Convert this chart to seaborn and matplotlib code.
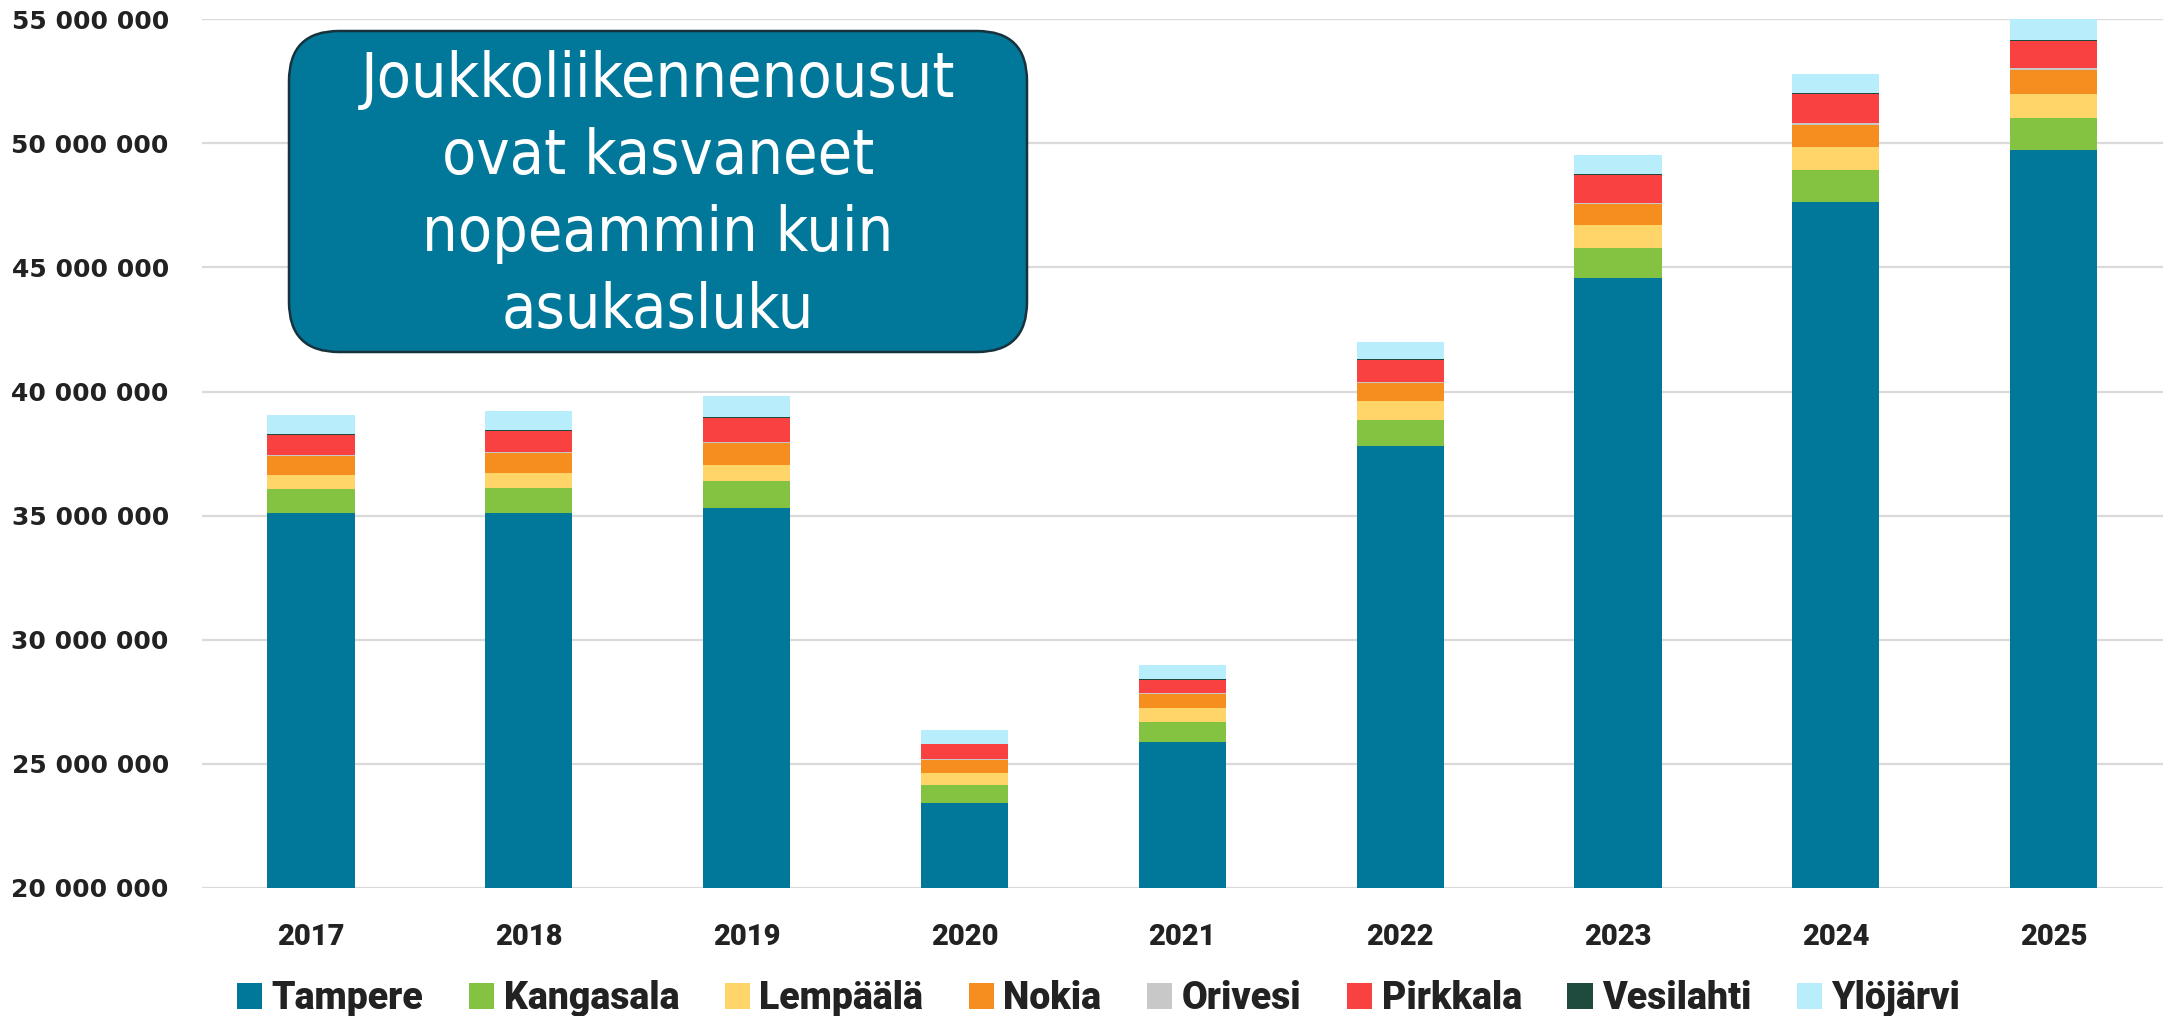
import numpy as np
import pandas as pd
import matplotlib
matplotlib.use('Agg')
import matplotlib.pyplot as plt
from matplotlib import font_manager
from matplotlib.patches import FancyBboxPatch, Patch
from matplotlib.ticker import FuncFormatter
import seaborn as sns

sns.set_style('white')
plt.rcParams['font.family'] = ['DejaVu Sans']

years = ['2017', '2018', '2019', '2020', '2021', '2022', '2023', '2024', '2025']
cities = ['Tampere', 'Kangasala', 'Lempäälä', 'Nokia', 'Orivesi', 'Pirkkala', 'Vesilahti', 'Ylöjärvi']
colors = ['#01789A', '#84C341', '#FFD56A', '#F68D1F', '#C8C8C8', '#FA4142', '#1F4B3F', '#B8EEFC']

# nousut per kunta (kpl)
tampere   = [35110000, 35110000, 35320000, 23420000, 25870000, 37820000, 44560000, 47650000, 49730000]
kangasala = [970000, 1020000, 1090000, 730000, 810000, 1020000, 1220000, 1260000, 1310000]
lempaala  = [540000, 600000, 650000, 490000, 560000, 780000, 930000, 940000, 960000]
nokia     = [790000, 780000, 880000, 530000, 570000, 730000, 860000, 900000, 940000]
orivesi   = [40000, 40000, 40000, 30000, 30000, 40000, 40000, 80000, 80000]
pirkkala  = [800000, 860000, 950000, 590000, 560000, 890000, 1120000, 1160000, 1100000]
vesilahti = [30000, 30000, 30000, 20000, 20000, 30000, 30000, 30000, 40000]
ylojarvi  = [760000, 760000, 880000, 550000, 580000, 700000, 780000, 790000, 840000]

series = [tampere, kangasala, lempaala, nokia, orivesi, pirkkala, vesilahti, ylojarvi]
df = pd.DataFrame({
    'year': np.tile(years, len(cities)),
    'city': np.repeat(cities, len(years)),
    'value': np.concatenate(series),
})
df['city'] = pd.Categorical(df['city'], categories=cities, ordered=True)
df = df.sort_values(['year', 'city'])
df['cum'] = df.groupby('year')['value'].cumsum()

# kapea fontti otsikkoon jos loytyy
names = {f.name for f in font_manager.fontManager.ttflist}
condensed = [f for f in font_manager.fontManager.ttflist
             if f.name in ('DejaVu Sans', 'Roboto Condensed')
             and f.stretch in ('condensed', 'semi-condensed')
             and f.style == 'normal' and f.weight in (400, 'normal', 'regular')]
if 'Liberation Sans Narrow' in names:
    title_font = dict(family='Liberation Sans Narrow', size=50)
elif condensed:
    title_font = dict(fname=condensed[0].fname, size=45)
else:
    title_font = dict(family='Roboto', weight='light', size=44)
title_prop = font_manager.FontProperties(**title_font)

fig = plt.figure(figsize=(21.8, 10.16), dpi=100)
ax = fig.add_axes([0.0927, 0.126, 0.8993, 0.855])

# stacked bars: draw cumulative totals from the top down
for city, col in reversed(list(zip(cities, colors))):
    sub = df[df['city'] == city]
    sns.barplot(data=sub, x='year', y='cum', order=years, color=col, width=0.4,
                saturation=1, errorbar=None, linewidth=0, ax=ax)

ax.set_ylim(20e6, 55e6)
ax.set_yticks(np.arange(20e6, 55e6 + 1, 5e6))
ax.set_xlim(-0.5, 8.5)
ax.yaxis.set_major_formatter(FuncFormatter(lambda v, p: '{:,}'.format(int(v)).replace(',', ' ')))
ax.yaxis.grid(True, color='#DADADA', linewidth=1.6)
ax.set_axisbelow(True)
sns.despine(ax=ax, left=True, bottom=True)
ax.set_xlabel('')
ax.set_ylabel('')
ax.tick_params(axis='y', length=0, pad=24, labelsize=18, labelcolor='#222222')
ax.tick_params(axis='x', length=0, pad=25, labelcolor='#222222')
for lab in ax.get_yticklabels():
    lab.set_fontweight('heavy')
for lab in ax.get_xticklabels():
    lab.set_fontfamily(['Roboto', 'DejaVu Sans'])
    lab.set_fontweight('black')
    lab.set_fontsize(21)

# otsikkolaatikko
box = FancyBboxPatch((2.89, 6.64), 7.38, 3.21, boxstyle='round,pad=0,rounding_size=0.5',
                     transform=fig.dpi_scale_trans, facecolor='#01789A', edgecolor='#17323D',
                     linewidth=1.8, zorder=5)
fig.patches.append(box)
fig.text(2.89 + 7.38 / 2, 6.64 + 3.21 / 2 - 0.04,
         'Joukkoliikennenousut\novat kasvaneet\nnopeammin kuin\nasukasluku',
         transform=fig.dpi_scale_trans, ha='center', va='center', color='white',
         fontproperties=title_prop, linespacing=1.36, zorder=6)

handles = [Patch(facecolor=c, edgecolor='none') for c in colors]
fig.legend(handles, cities, loc='center', bbox_to_anchor=(0.504, 0.017), ncol=8,
           frameon=False, handlelength=0.67, handleheight=0.67, handletextpad=0.25,
           columnspacing=1.22, prop={'family': ['Roboto', 'DejaVu Sans'], 'weight': 'black', 'size': 27},
           labelcolor='#222222')

fig.savefig('out.png', dpi=100)
plt.close(fig)
